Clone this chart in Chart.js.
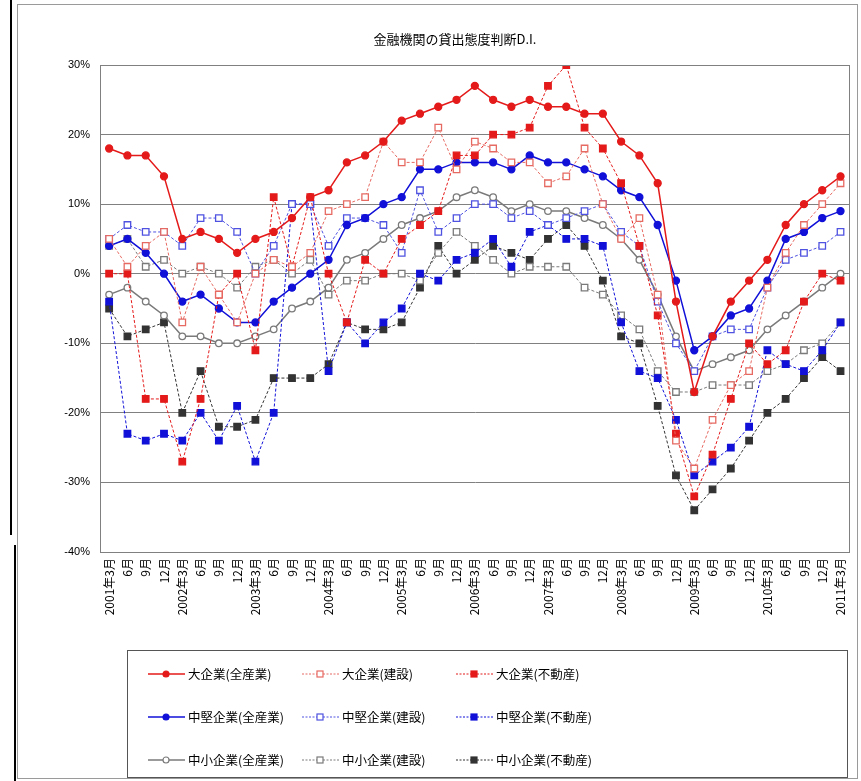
<!DOCTYPE html>
<html>
<head>
<meta charset="utf-8">
<script src="https://cdn.jsdelivr.net/npm/chart.js@4.4.1/dist/chart.umd.min.js"></script>
<style>
html,body{margin:0;padding:0;background:#fff;}
body{width:861px;height:781px;position:relative;overflow:hidden;font-family:"Noto Sans CJK JP","Noto Sans",sans-serif;}
#c{position:absolute;left:0;top:0;}
#frame{position:absolute;left:17px;top:4px;width:841px;height:775px;border:1px solid #9a9a9a;box-sizing:border-box;}
#title{position:absolute;left:335px;top:29px;width:240px;text-align:center;font-size:13px;color:#000;}
#legend{position:absolute;left:127px;top:650px;width:721px;height:128px;border:1.5px solid #555;box-sizing:border-box;}
.item{position:absolute;font-size:12.5px;color:#000;white-space:nowrap;display:flex;align-items:center;}
.item svg{margin-right:3px;}
.edge1{position:absolute;left:10px;top:0;width:1.5px;height:535px;background:#000;}
.edge2{position:absolute;left:14px;top:545px;width:1.5px;height:236px;background:#000;}
</style>
</head>
<body>
<div class="edge1"></div><div class="edge2"></div>
<div id="frame"></div>
<canvas id="c" width="861" height="781"></canvas>
<div id="title">金融機関の貸出態度判断D.I.</div>
<div id="legend"></div>
<script>
const categories = ["2001年3月","6月","9月","12月","2002年3月","6月","9月","12月","2003年3月","6月","9月","12月","2004年3月","6月","9月","12月","2005年3月","6月","9月","12月","2006年3月","6月","9月","12月","2007年3月","6月","9月","12月","2008年3月","6月","9月","12月","2009年3月","6月","9月","12月","2010年3月","6月","9月","12月","2011年3月"];

const seriesNames = ["大企業(全産業)","大企業(建設)","大企業(不動産)","中堅企業(全産業)","中堅企業(建設)","中堅企業(不動産)","中小企業(全産業)","中小企業(建設)","中小企業(不動産)"];

const largeAll    = [18,17,17,14,5,6,5,3,5,6,8,11,12,16,17,19,22,23,24,25,27,25,24,25,24,24,23,23,19,17,13,-4,-17,-9,-4,-1,2,7,10,12,14];
const largeConst  = [5,1,4,6,-7,1,-3,-7,0,2,1,3,9,10,11,19,16,16,21,15,19,18,16,16,13,14,18,10,5,8,-3,-24,-28,-21,-16,-14,-2,3,7,10,13];
const largeRealty = [0,0,-18,-18,-27,-18,-3,0,-11,11,1,11,0,-7,2,0,5,7,9,17,17,20,20,21,27,30,21,18,13,4,-6,-23,-32,-26,-18,-10,-13,-11,-4,0,-1];
const midAll      = [4,5,3,0,-4,-3,-5,-7,-7,-4,-2,0,2,7,8,10,11,15,15,16,16,16,15,17,16,16,15,14,12,11,7,-1,-11,-9,-6,-5,-1,5,6,8,9];
const midConst    = [5,7,6,6,4,8,8,6,0,4,10,10,4,8,8,7,3,12,6,8,10,10,8,9,7,8,9,10,6,4,-4,-10,-14,-9,-8,-8,-2,2,3,4,6];
const midRealty   = [-4,-23,-24,-23,-24,-20,-24,-19,-27,-20,10,10,-14,-7,-10,-7,-5,0,-1,2,3,5,1,6,7,5,5,4,-7,-14,-15,-21,-29,-27,-25,-22,-11,-13,-14,-11,-7];
const smallAll    = [-3,-2,-4,-6,-9,-9,-10,-10,-9,-8,-5,-4,-2,2,3,5,7,8,9,11,12,11,9,10,9,9,8,7,5,2,-3,-9,-14,-13,-12,-11,-8,-6,-4,-2,0];
const smallConst  = [4,5,1,2,0,1,0,-2,1,2,0,2,-3,-1,-1,0,0,-1,3,6,4,2,0,1,1,1,-2,-3,-6,-8,-14,-17,-17,-16,-16,-16,-14,-13,-11,-10,-7];
const smallRealty = [-5,-9,-8,-7,-20,-14,-22,-22,-21,-15,-15,-15,-13,-7,-8,-8,-7,-2,4,0,2,4,3,2,5,7,4,-1,-9,-10,-19,-29,-34,-31,-28,-24,-20,-18,-15,-12,-14];

const yMin = -40, yMax = 30, yStep = 10;

const RED = '#e41a1a', SALMON = '#e66a62', BLUE = '#1010d8', LBLUE = '#4f52e0', GRAY = '#7a7a7a', DARK = '#333333';
const styles = [
  {data: largeAll,    line: RED,    dash: [],    w: 1.5, ps: 'circle', r: 3.5, fill: RED,    bc: RED},
  {data: largeConst,  line: SALMON, dash: [3,2], w: 1,   ps: 'rect',   r: 4.6, fill: '#fff', bc: SALMON},
  {data: largeRealty, line: RED,    dash: [3,2], w: 1,   ps: 'rect',   r: 4.6, fill: RED,    bc: RED},
  {data: midAll,      line: BLUE,   dash: [],    w: 1.5, ps: 'circle', r: 3.5, fill: BLUE,   bc: BLUE},
  {data: midConst,    line: LBLUE,  dash: [3,2], w: 1,   ps: 'rect',   r: 4.6, fill: '#fff', bc: LBLUE},
  {data: midRealty,   line: BLUE,   dash: [3,2], w: 1,   ps: 'rect',   r: 4.6, fill: BLUE,   bc: BLUE},
  {data: smallAll,    line: GRAY,   dash: [],    w: 1.5, ps: 'circle', r: 3.3, fill: '#fff', bc: GRAY},
  {data: smallConst,  line: GRAY,   dash: [3,2], w: 1,   ps: 'rect',   r: 4.6, fill: '#fff', bc: GRAY},
  {data: smallRealty, line: DARK,   dash: [3,2], w: 1,   ps: 'rect',   r: 4.6, fill: DARK,   bc: DARK}
];

const datasets = styles.map((s, i) => ({
  label: seriesNames[i],
  data: s.data,
  borderColor: s.line,
  borderWidth: s.w,
  borderDash: s.dash,
  pointStyle: s.ps,
  pointRadius: s.r,
  pointBackgroundColor: s.fill,
  pointBorderColor: s.bc,
  pointBorderWidth: 1.3,
  fill: false,
  tension: 0
}));

const frameBox = {
  id: 'frameBox',
  afterDraw(chart) {
    const a = chart.chartArea, ctx = chart.ctx;
    ctx.save();
    ctx.strokeStyle = '#808080';
    ctx.lineWidth = 1;
    ctx.strokeRect(Math.round(a.left) + 0.5, Math.round(a.top) + 0.5, Math.round(a.right - a.left) - 1, Math.round(a.bottom - a.top));
    ctx.restore();
  }
};

new Chart(document.getElementById('c'), {
  type: 'line',
  data: {labels: categories, datasets},
  options: {
    responsive: false,
    animation: false,
    devicePixelRatio: 1,
    layout: {padding: {left: 40, top: 65, right: 3, bottom: 139}},
    plugins: {legend: {display: false}, title: {display: false}, tooltip: {enabled: false}},
    scales: {
      x: {
        offset: true,
        grid: {display: false, drawTicks: false},
        border: {display: true, color: '#808080'},
        ticks: {
          autoSkip: false, maxRotation: 90, minRotation: 90, padding: 6,
          color: '#000', font: {family: '"Noto Sans CJK JP"', size: 12}
        },
        afterFit(scale) { scale.height = 90; }
      },
      y: {
        min: yMin, max: yMax,
        grid: {color: '#808080', lineWidth: 1, drawTicks: false},
        border: {display: true, color: '#808080'},
        ticks: {
          stepSize: yStep, padding: 10, color: '#000',
          font: {family: '"Liberation Sans", Arial', size: 11},
          callback: v => v + '%'
        },
        afterFit(scale) { scale.width = 60; }
      }
    }
  },
  plugins: [frameBox]
});

// HTML legend
const legend = document.getElementById('legend');
const colX = [20, 174, 328];
const rowY = [22, 65, 108];
styles.forEach((s, i) => {
  const col = i % 3, row = Math.floor(i / 3);
  const div = document.createElement('div');
  div.className = 'item';
  div.style.left = colX[col] + 'px';
  div.style.top = (rowY[row] - 9) + 'px';
  const dash = s.dash.length ? 'stroke-dasharray="2,1.5"' : '';
  let marker;
  if (s.ps === 'circle') {
    marker = `<circle cx="18" cy="9" r="3" fill="${s.fill}" stroke="${s.bc}" stroke-width="1.2"/>`;
  } else {
    marker = `<rect x="15" y="6" width="6" height="6" fill="${s.fill}" stroke="${s.bc}" stroke-width="1.2"/>`;
  }
  div.innerHTML = `<svg width="37" height="18"><line x1="0" y1="9" x2="37" y2="9" stroke="${s.line}" stroke-width="${s.w}" ${dash}/>${marker}</svg><span>${seriesNames[i]}</span>`;
  legend.appendChild(div);
});
</script>
</body>
</html>
